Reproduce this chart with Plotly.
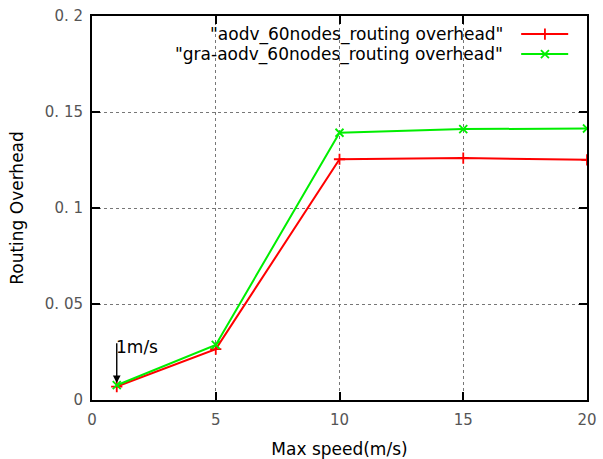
import plotly.graph_objects as go

speed = [1, 5, 10, 15, 20]
aodv = [0.0070, 0.0265, 0.1254, 0.1260, 0.1251]
gra_aodv = [0.0077, 0.0287, 0.1392, 0.1411, 0.1414]

series_names = ['"aodv_60nodes_routing overhead"', '"gra-aodv_60nodes_routing overhead"']
series_colors = ["#ff0000", "#00ee00"]
series_symbols = ["cross-thin", "x-thin"]

x_ticks = [0, 5, 10, 15, 20]
x_ticktext = ["0", "5", "10", "15", "20"]
y_ticks = [0, 0.05, 0.1, 0.15, 0.2]
y_ticktext = ["0", "0. 05", "0. 1", "0. 15", "0. 2"]

FONT = "DejaVu Sans"

fig = go.Figure()
for ys, name, col, sym in zip([aodv, gra_aodv], series_names, series_colors, series_symbols):
    fig.add_trace(go.Scatter(
        x=speed, y=ys, mode="lines+markers", name=name,
        line=dict(color=col, width=2),
        marker=dict(symbol=sym, size=8, line=dict(color=col, width=1.8)),
        showlegend=False,
    ))

# legend samples on an overlay axis (0..1 coords over the plot area)
leg_y = [0.953, 0.901]
for ly, col, sym, name in zip(leg_y, series_colors, series_symbols, series_names):
    fig.add_trace(go.Scatter(
        x=[0.867, 0.915, 0.962], y=[ly, ly, ly], mode="lines",
        line=dict(color=col, width=2), xaxis="x2", yaxis="y2",
        showlegend=False, hoverinfo="skip",
    ))
    fig.add_trace(go.Scatter(
        x=[0.915], y=[ly], mode="markers",
        marker=dict(symbol=sym, size=8, line=dict(color=col, width=1.8)),
        xaxis="x2", yaxis="y2", showlegend=False, hoverinfo="skip",
    ))
    fig.add_annotation(
        x=0.832, y=ly, xref="x2", yref="y2", text=name, showarrow=False,
        xanchor="right", yanchor="middle", borderpad=0,
        font=dict(family=FONT, size=17, color="black"),
    )

# arrow annotation at 1 m/s
fig.add_annotation(
    x=1, y=0.0088, ax=1, ay=0.0303, xref="x", yref="y", axref="x", ayref="y",
    text="", showarrow=True, arrowhead=2, arrowsize=1.1, arrowwidth=1.4,
    arrowcolor="black",
)
fig.add_annotation(
    x=1, y=0.0277, xref="x", yref="y", text="1m/s", showarrow=False,
    xanchor="left", yanchor="middle", xshift=-3,
    font=dict(family=FONT, size=17, color="black"),
)

axis_common = dict(
    showline=True, linecolor="black", linewidth=2, mirror="ticks",
    ticks="inside", ticklen=8, tickwidth=2, tickcolor="black",
    showgrid=True, gridcolor="#777777", gridwidth=1, griddash="dot",
    zeroline=False, automargin=False,
    tickfont=dict(family=FONT, size=15, color="#555555"),
)

fig.update_layout(
    width=603, height=459,
    margin=dict(l=92, r=16, t=16, b=59),
    paper_bgcolor="white", plot_bgcolor="white",
    font=dict(family=FONT, color="black"),
    xaxis=dict(
        range=[0, 20], tickvals=x_ticks, ticktext=x_ticktext, ticklabelstandoff=5,
        title=dict(text="Max speed(m/s)", font=dict(family=FONT, size=17, color="black"), standoff=18),
        **axis_common,
    ),
    yaxis=dict(
        range=[0, 0.2], tickvals=y_ticks, ticktext=y_ticktext, ticklabelstandoff=4,
        title=dict(text="Routing Overhead", font=dict(family=FONT, size=17, color="black"), standoff=17),
        **axis_common,
    ),
    xaxis2=dict(range=[0, 1], overlaying="x", visible=False, fixedrange=True),
    yaxis2=dict(range=[0, 1], overlaying="y", visible=False, fixedrange=True),
)

fig.write_html("out.html")
